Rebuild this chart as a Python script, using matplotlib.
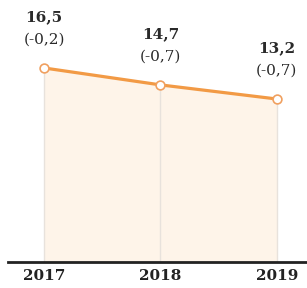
import matplotlib
matplotlib.use("Agg")
import matplotlib.pyplot as plt

years = ["2017", "2018", "2019"]
values = [16.5, 14.7, 13.2]
values_txt = ["16,5", "14,7", "13,2"]
changes_txt = ["(-0,2)", "(-0,7)", "(-0,7)"]

fig = plt.figure(figsize=(3.07, 2.88), dpi=100)
ax = fig.add_axes([8/307, 26/288, 299/307, 262/288])
x = list(range(len(years)))

ax.fill_between(x, values, -4.14, color="#fef4e9", zorder=1, linewidth=0)
for xi, v in zip(x, values):
    ax.plot([xi, xi], [-4.14, v], color="#e8e2dc", lw=1.0, zorder=2)
ax.plot(x, values, color="#f29a45", lw=2.3, zorder=3)
ax.scatter(x, values, s=40, facecolor="white", edgecolor="#f0a060", linewidth=1.2, zorder=4)

for xi, v, t, c in zip(x, values, values_txt, changes_txt):
    ax.annotate(t, (xi, v), xytext=(0, 51), textcoords="offset pixels",
                ha="center", va="center", fontsize=11, fontweight="bold",
                family="DejaVu Serif", color="#2a2a2a")
    ax.annotate(c, (xi, v), xytext=(0, 28), textcoords="offset pixels",
                ha="center", va="center", fontsize=11,
                family="DejaVu Serif", color="#2a2a2a")

ax.set_xlim(-0.31, 2.26)
ax.set_ylim(-4.14, 23.73)
ax.set_xticks(x)
ax.set_xticklabels(years, fontsize=11, fontweight="bold", family="DejaVu Serif", color="#222222")
ax.tick_params(axis="x", length=0, pad=5)
ax.set_yticks([])
for s in ["top", "right", "left"]:
    ax.spines[s].set_visible(False)
ax.spines["bottom"].set_color("#222222")
ax.spines["bottom"].set_linewidth(2)
ax.patch.set_alpha(0)

fig.savefig("out.png", dpi=100)
